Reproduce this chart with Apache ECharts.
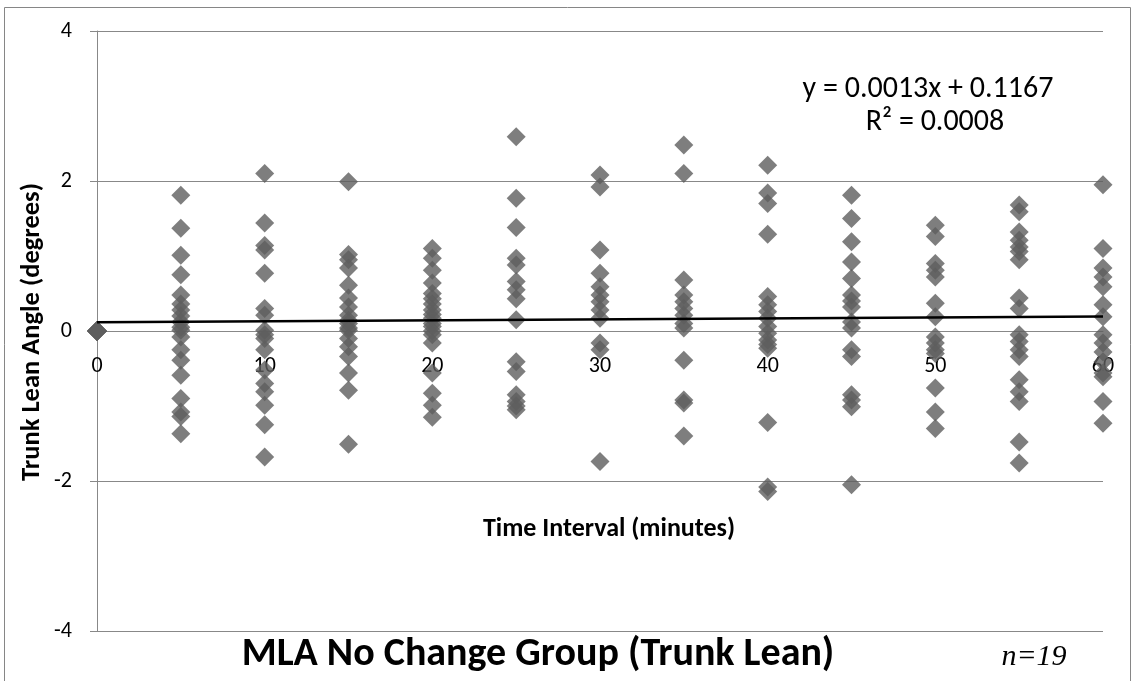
<!DOCTYPE html>
<html>
<head>
<meta charset="utf-8">
<script src="https://cdn.jsdelivr.net/npm/echarts@6/dist/echarts.min.js"></script>
<style>html,body{margin:0;padding:0;background:#fff}#c{width:1136px;height:681px}</style>
</head>
<body>
<div id="c"></div>
<script>
// Time points (minutes)
const minutes = [0, 5, 10, 15, 20, 25, 30, 35, 40, 45, 50, 55, 60];
// Trunk lean angle values (degrees) per time point
const t0  = [0, 0, 0, 0, 0, 0, 0, 0, 0, 0, 0, 0, 0, 0, 0, 0, 0, 0, 0];
const t5  = [1.81, 1.37, 1.01, 0.75, 0.48, 0.36, 0.28, 0.20, 0.12, 0.05, 0.01, -0.08, -0.25, -0.39, -0.59, -0.90, -1.08, -1.14, -1.37];
const t10 = [2.10, 1.44, 1.14, 1.08, 0.77, 0.30, 0.21, 0.01, -0.05, -0.10, -0.25, -0.52, -0.70, -0.81, -0.99, -1.25, -1.68];
const t15 = [1.99, 1.02, 0.95, 0.84, 0.61, 0.44, 0.32, 0.21, 0.14, 0.10, 0.04, 0.01, -0.10, -0.21, -0.34, -0.56, -0.79, -1.51];
const t20 = [1.10, 0.97, 0.81, 0.64, 0.50, 0.43, 0.36, 0.28, 0.22, 0.17, 0.10, 0.06, 0.00, -0.05, -0.16, -0.56, -0.83, -0.99, -1.15];
const t25 = [2.59, 1.77, 1.38, 0.97, 0.88, 0.66, 0.55, 0.43, 0.15, -0.41, -0.54, -0.85, -0.94, -1.00, -1.05];
const t30 = [2.08, 1.92, 1.08, 0.77, 0.59, 0.48, 0.39, 0.28, 0.17, -0.16, -0.25, -1.74];
const t35 = [2.48, 2.10, 0.68, 0.48, 0.39, 0.30, 0.21, 0.10, 0.04, -0.39, -0.92, -0.96, -1.40];
const t40 = [2.21, 1.84, 1.70, 1.29, 0.46, 0.35, 0.26, 0.17, 0.06, -0.03, -0.12, -0.18, -0.23, -1.22, -2.08, -2.14];
const t45 = [1.81, 1.50, 1.19, 0.92, 0.70, 0.48, 0.40, 0.32, 0.12, 0.04, -0.25, -0.34, -0.85, -0.92, -1.01, -2.05];
const t50 = [1.41, 1.26, 0.90, 0.81, 0.72, 0.37, 0.19, -0.08, -0.16, -0.25, -0.30, -0.76, -1.08, -1.30];
const t55 = [1.68, 1.59, 1.32, 1.21, 1.12, 1.06, 0.95, 0.44, 0.30, -0.05, -0.14, -0.25, -0.34, -0.65, -0.81, -0.94, -1.48, -1.76];
const t60 = [1.95, 1.10, 0.84, 0.72, 0.59, 0.35, 0.19, -0.05, -0.16, -0.28, -0.41, -0.56, -0.61, -0.94, -1.23];
const columns = [t0, t5, t10, t15, t20, t25, t30, t35, t40, t45, t50, t55, t60];
// Linear trend line
const slope = 0.0013;
const intercept = 0.1167;
const trendX = [0, 60];
const yTicks = [-4, -2, 0, 2, 4];

const scatterData = [];
columns.forEach((col, i) => col.forEach(v => scatterData.push([minutes[i], v])));
const trendData = trendX.map(x => [x, slope * x + intercept]);

const FONT = 'Carlito, Lato, "Open Sans", sans-serif';
const chart = echarts.init(document.getElementById('c'));
chart.setOption({
  animation: false,
  backgroundColor: '#fff',
  grid: { left: 97, right: 33, top: 31, bottom: 50, containLabel: false },
  xAxis: {
    type: 'value', min: 0, max: 60, interval: 10,
    position: 'bottom', offset: -300,
    axisLine: { onZero: false, lineStyle: { color: '#888', width: 1 } },
    axisTick: { show: false },
    splitLine: { show: false },
    axisLabel: { color: '#000', fontFamily: FONT, fontSize: 22, margin: 24 }
  },
  yAxis: {
    type: 'value', min: yTicks[0], max: yTicks[yTicks.length - 1], interval: 2,
    axisLine: { show: true, onZero: false, lineStyle: { color: '#888', width: 1 } },
    axisTick: { show: true, length: 7, lineStyle: { color: '#888' } },
    splitLine: { show: true, lineStyle: { color: '#888', width: 1 } },
    axisLabel: { color: '#000', fontFamily: FONT, fontSize: 22, margin: 25 }
  },
  series: [
    {
      type: 'scatter', data: scatterData, symbol: 'diamond', symbolSize: 19,
      itemStyle: { color: '#5e5e5e' }, z: 2
    },
    {
      type: 'line', data: trendData, symbol: 'none', z: 5,
      lineStyle: { color: '#000', width: 2.5 }
    }
  ],
  graphic: [
    { type: 'rect', shape: { x: 4.5, y: 7.5, width: 1126, height: 690 }, style: { fill: null, stroke: '#868686', lineWidth: 1 }, z: 0, silent: true },
    { type: 'text', x: 32, y: 332, rotation: Math.PI / 2, style: { text: 'Trunk Lean Angle (degrees)', font: 'bold 26.5px ' + FONT, fill: '#000', align: 'center', verticalAlign: 'middle' } },
    { type: 'text', x: 609, y: 529, style: { text: 'Time Interval (minutes)', font: 'bold 26px ' + FONT, fill: '#000', align: 'center', verticalAlign: 'middle' } },
    { type: 'text', x: 928, y: 89, style: { text: 'y = 0.0013x + 0.1167', font: '30px ' + FONT, fill: '#000', align: 'center', verticalAlign: 'middle' } },
    { type: 'text', x: 935, y: 122, style: { text: 'R² = 0.0008', font: '30px ' + FONT, fill: '#000', align: 'center', verticalAlign: 'middle' } },
    { type: 'text', x: 538, y: 655, style: { text: 'MLA No Change Group (Trunk Lean)', font: 'bold 40px ' + FONT, fill: '#000', align: 'center', verticalAlign: 'middle' } },
    { type: 'text', x: 1034, y: 657, style: { text: 'n=19', font: 'italic 30px "Liberation Serif", "DejaVu Serif", serif', fill: '#000', align: 'center', verticalAlign: 'middle' } }
  ]
});
</script>
</body>
</html>
